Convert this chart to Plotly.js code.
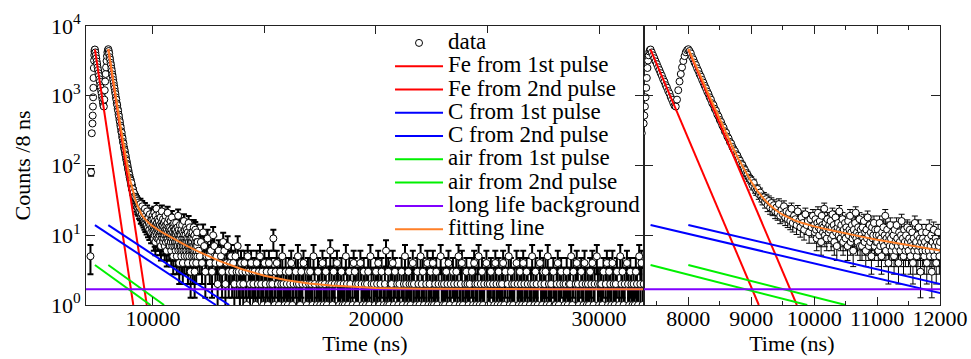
<!DOCTYPE html>
<html><head><meta charset="utf-8">
<script src="https://cdn.plot.ly/plotly-3.0.1.min.js"></script>
<style>html,body{margin:0;padding:0;background:#fff}#chart{width:971px;height:359px}</style>
</head><body><div id="chart"></div>
<script>
// ---- measured data (counts per 8 ns) ----
const riseTime = [7200, 7230, 7260, 7290, 7300, 7310, 7320, 7330, 7340, 7350, 7360, 7370, 7380, 7390, 7400];
const riseCounts = [5, 80, 290, 400, 520, 700, 950, 1300, 1800, 2500, 3200, 3800, 4300, 4550, 4600];

// 7420 ... 9980 every 20 ns
const mainStart = 7420, mainStep = 20;
const mainCounts = [
  4180, 3790, 3450, 3110, 2840, 2560, 2340, 2110, 1930, 1730, 1590, 1420, 1310, 1170, 1080, 960, 880, 790, 720,
  700, 880, 1200, 1600, 2050, 2550, 3150, 3700, 4200, 4500,
  4650, 4380, 4050, 3580, 3320, 2980, 2760, 2470, 2270, 2030, 1880, 1690, 1540, 1390, 1280, 1150, 1060, 950, 880, 780,
  735, 650, 610, 540, 505, 450, 420, 375, 350, 310, 295, 260, 245, 218, 207,
  185, 171, 161, 145, 138, 124, 117, 106, 101, 91, 86, 78, 74, 67, 64,
  61, 52, 56, 47, 44, 46, 39, 41, 36, 33,
  35, 30, 33, 27, 31, 25, 29, 24, 27, 22,
  25, 21, 28, 19, 23, 20, 26, 18, 22, 17,
  21, 16, 24, 15, 19, 17, 14, 22, 16, 13,
  18, 15, 12, 20, 14, 16, 11, 17, 13, 19
];

// 10000 ... 12000 every 10 ns
const midStart = 10000, midStep = 10;
const midCounts = [
  14, 11, 17, 12, 9, 15, 21, 13, 10, 16, 12, 8, 19, 14, 11, 13, 24, 10, 15, 12, 9, 17, 13, 11, 14,
  12, 16, 9, 13, 20, 10, 14, 8, 12, 18, 11, 7, 13, 15, 10, 22, 12, 9, 14, 11, 17, 8, 12, 10, 15,
  9, 13, 11, 7, 16, 10, 12, 19, 8, 11, 14, 9, 6, 12, 10, 15, 21, 9, 11, 8, 13, 10, 17, 7, 12,
  10, 7, 13, 9, 16, 8, 11, 6, 12, 9, 18, 10, 7, 14, 8, 11, 5, 13, 9, 10, 15, 7, 12, 8, 10,
  8, 12, 6, 10, 15, 7, 9, 5, 11, 8, 13, 7, 10, 19, 6, 9, 12, 8, 4, 10, 7, 14, 9, 6, 11,
  7, 10, 5, 12, 8, 6, 14, 9, 7, 4, 11, 8, 6, 10, 16, 7, 9, 5, 12, 8, 6, 10, 7, 13, 8,
  6, 9, 12, 5, 8, 7, 11, 4, 9, 6, 15, 7, 8, 5, 10, 6, 13, 7, 9, 3, 8, 11, 6, 9, 7,
  5, 8, 6, 11, 4, 7, 9, 6, 13, 5, 7, 10, 3, 8, 6, 12, 5, 7, 9, 4, 8, 6, 11, 7, 5,
  8
];

// 12050 ... 32000 every 50 ns
const tailStart = 12050, tailStep = 50;
const tailCounts = [
  6, 5, 8, 4, 11, 7, 3, 5, 9, 5,  4, 6, 3, 10, 7, 4, 5, 2, 6, 4,
  5, 3, 8, 6, 2, 4, 7, 3, 4, 5,   3, 4, 2, 5, 3, 7, 3, 2, 4, 3,
  2, 4, 3, 1, 5, 3, 2, 4, 3, 2,   3, 1, 4, 2, 3, 5, 2, 3, 1, 4,
  2, 3, 1, 4, 2, 3, 2, 9, 1, 3,   4, 2, 1, 3, 2, 5, 2, 1, 3, 2,
  1, 3, 2, 4, 1, 2, 0, 3, 2, 5,   2, 1, 3, 2, 4, 0, 2, 1, 3, 2,
  3, 2, 1, 5, 2, 0, 1, 3, 2, 1,   2, 4, 1, 2, 3, 1, 0, 2, 6, 2,
  1, 3, 2, 0, 4, 2, 1, 2, 3, 1,   2, 1, 5, 2, 1, 3, 2, 0, 1, 4,
  3, 2, 1, 2, 0, 4, 2, 1, 3, 2,   1, 2, 3, 1, 5, 2, 0, 2, 1, 3,
  2, 4, 1, 2, 3, 0, 1, 2, 6, 1,   3, 1, 2, 2, 4, 1, 3, 0, 2, 1,
  2, 0, 3, 1, 2, 5, 2, 1, 3, 2,   1, 2, 4, 2, 0, 1, 3, 2, 1, 5,
  2, 3, 1, 0, 2, 4, 1, 2, 3, 1,   4, 1, 2, 3, 1, 2, 0, 5, 2, 1,
  2, 1, 3, 2, 4, 1, 2, 0, 3, 2,   1, 3, 2, 5, 1, 2, 4, 1, 0, 2,
  3, 2, 1, 2, 0, 3, 1, 4, 2, 1,   2, 5, 1, 2, 3, 1, 2, 0, 4, 2,
  1, 2, 3, 0, 2, 1, 4, 2, 1, 3,   2, 1, 2, 4, 1, 3, 0, 2, 5, 1,
  3, 2, 1, 2, 0, 4, 2, 1, 3, 2,   1, 4, 2, 1, 3, 2, 0, 1, 2, 5,
  2, 1, 3, 2, 1, 0, 4, 2, 1, 3,   2, 3, 1, 5, 2, 1, 2, 0, 3, 1,
  1, 2, 4, 1, 2, 3, 0, 2, 1, 2,   3, 1, 2, 2, 5, 1, 3, 0, 2, 4,
  2, 1, 0, 3, 2, 1, 4, 2, 1, 2,   1, 3, 2, 4, 1, 2, 0, 5, 2, 1,
  2, 2, 1, 3, 0, 2, 4, 1, 3, 2,   1, 4, 2, 1, 2, 3, 0, 1, 5, 2,
  3, 1, 2, 0, 4, 2, 1, 3, 2, 1,   2, 1, 3, 2, 1, 5, 2, 4, 1, 2
];

// ---- fitted components ----
const fitTime = [8000, 8100, 8200, 8300, 8400, 8500, 8600, 8700, 8800, 8900, 9000, 9100, 9200, 9300, 9400, 9500, 9600, 9700, 9800, 9900, 10000, 10250, 10500, 10750, 11000, 11500, 12000, 12500, 13000, 14000, 15000, 16000, 17000, 18000, 20000, 22000, 25000, 28000, 32000];
const fitCounts = [4700, 3036, 1879, 1167, 728, 457, 290, 187, 123, 83.3, 58.5, 43.0, 33.1, 26.8, 22.6, 19.7, 17.7, 16.2, 15.1, 14.2, 13.4, 11.9, 10.6, 9.55, 8.63, 7.10, 5.91, 4.98, 4.26, 3.25, 2.63, 2.27, 2.03, 1.90, 1.76, 1.71, 1.685, 1.68, 1.68];

const fe1Time = [7400, 9120], fe1Counts = [4600, 1];
const fe2Time = [8000, 9725], fe2Counts = [4600, 1];
const c1Time = [7400, 12820], c1Counts = [14, 1];
const c2Time = [8000, 13420], c2Counts = [14, 1];
const air1Time = [7400, 9890], air1Counts = [3.75, 1];
const air2Time = [8000, 10500], air2Counts = [3.75, 1];
const bgTime = [7000, 32000], bgCounts = [1.68, 1.68];

const yTickVals = [1, 10, 100, 1000, 10000];
const yTickText = ['10<sup>0</sup>', '10<sup>1</sup>', '10<sup>2</sup>', '10<sup>3</sup>', '10<sup>4</sup>'];
const legendNames = ['data', 'Fe from 1st pulse', 'Fe from 2nd pulse', 'C from 1st pulse', 'C from 2nd pulse',
  'air from 1st pulse', 'air from 2nd pulse', 'long life background', 'fitting line'];

// ---- build ----
const dataTime = riseTime.slice();
const dataCounts = riseCounts.slice();
mainCounts.forEach((c, i) => { dataTime.push(mainStart + i * mainStep); dataCounts.push(c); });
midCounts.forEach((c, i) => { dataTime.push(midStart + i * midStep); dataCounts.push(c); });
tailCounts.forEach((c, i) => { dataTime.push(tailStart + i * tailStep); dataCounts.push(c); });

const FONT = 'Liberation Serif, Times New Roman, DejaVu Serif, serif';
const lg = s => '<span style="font-size:23px">' + s + '</span>';

const lineSpecs = [
  [fe1Time, fe1Counts, '#FF0000', legendNames[1]],
  [fe2Time, fe2Counts, '#FF0000', legendNames[2]],
  [c1Time, c1Counts, '#0000FF', legendNames[3]],
  [c2Time, c2Counts, '#0000FF', legendNames[4]],
  [air1Time, air1Counts, '#00F000', legendNames[5]],
  [air2Time, air2Counts, '#00F000', legendNames[6]],
  [bgTime, bgCounts, '#8000FF', legendNames[7]],
  [fitTime, fitCounts, '#FF7F27', legendNames[8]]
];

const traces = [];
['', '2'].forEach((ax, k) => {
  traces.push({
    x: dataTime, y: dataCounts, type: 'scatter', mode: 'markers',
    name: lg(legendNames[0]), showlegend: k === 0,
    xaxis: 'x' + ax, yaxis: 'y' + ax,
    marker: {symbol: 'circle', size: 7, color: 'white', line: {color: 'black', width: 1}},
    error_y: {type: 'sqrt', visible: true, color: 'black', thickness: k === 0 ? 2 : 1, width: 3}
  });
});
['', '2'].forEach((ax, k) => {
  lineSpecs.forEach(s => {
    traces.push({
      x: s[0], y: s[1], type: 'scatter', mode: 'lines',
      name: lg(s[3]), showlegend: k === 0,
      xaxis: 'x' + ax, yaxis: 'y' + ax,
      line: {color: s[2], width: 2}
    });
  });
});

const axCol = '#222';
const baseX = {
  showline: true, linecolor: axCol, linewidth: 1, mirror: 'ticks',
  ticks: 'inside', ticklen: 8, tickcolor: axCol, tickformat: 'd',
  showgrid: false, zeroline: false, tick0: 0, ticklabelstandoff: -6,
  tickfont: {family: FONT, size: 22, color: 'black'},
  title: {text: 'Time (ns)', font: {family: FONT, size: 22, color: 'black'}, standoff: 2}
};
const baseY = {
  type: 'log', range: [0, 4], tickmode: 'array', tickvals: yTickVals, ticktext: yTickText,
  showline: true, linecolor: axCol, linewidth: 1, mirror: 'ticks',
  ticks: 'inside', ticklen: 9, tickcolor: axCol,
  showgrid: false, zeroline: false,
  tickfont: {family: FONT, size: 22, color: 'black'}
};

const layout = {
  width: 971, height: 359,
  margin: {l: 86, r: 31, t: 26, b: 54},
  paper_bgcolor: 'white', plot_bgcolor: 'white',
  font: {family: FONT, size: 22, color: 'black'},
  showlegend: true,
  legend: {x: 0.356, y: 0.999, xanchor: 'left', yanchor: 'top', bgcolor: 'rgba(0,0,0,0)',
    borderwidth: 0, itemwidth: 48, tracegroupgap: 0,
    font: {family: FONT, size: 15.6, color: 'black'}},
  xaxis: Object.assign({}, baseX, {domain: [0, 0.653], range: [7000, 32000], dtick: 10000, anchor: 'y',
    minor: {dtick: 5000, tick0: 0, ticks: 'inside', ticklen: 7, tickcolor: axCol}}),
  xaxis2: Object.assign({}, baseX, {domain: [0.653, 1], range: [7290, 12000], dtick: 1000, anchor: 'y2',
    minor: {dtick: 500, tick0: 0, ticks: 'inside', ticklen: 4, tickcolor: axCol}}),
  yaxis: Object.assign({}, baseY, {domain: [0, 1], anchor: 'x',
    title: {text: 'Counts /8 ns', font: {family: FONT, size: 22, color: 'black'}, standoff: 14}}),
  yaxis2: Object.assign({}, baseY, {domain: [0, 1], anchor: 'x2', showticklabels: false})
};

Plotly.newPlot('chart', traces, layout, {displayModeBar: false, staticPlot: true});
</script>
</body></html>
